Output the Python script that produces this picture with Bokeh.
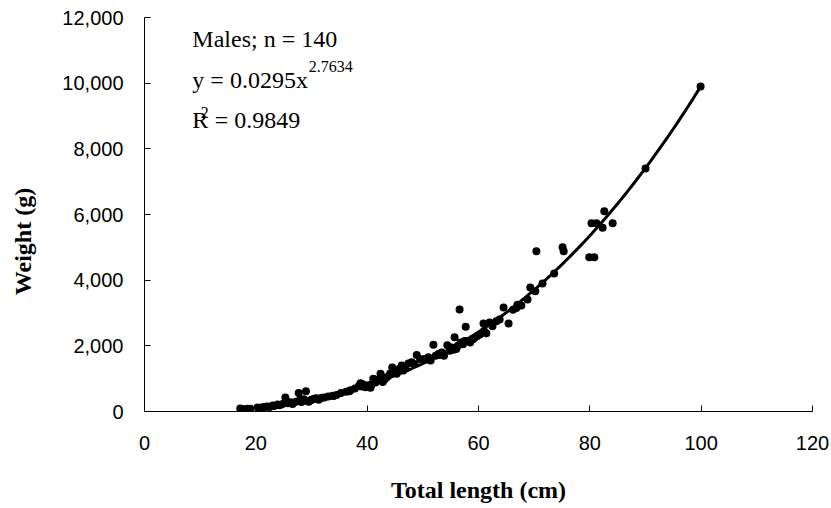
import numpy as np
from bokeh.plotting import figure
from bokeh.models import Range1d, NumeralTickFormatter, FixedTicker, Label
from bokeh.embed import file_html
from bokeh.resources import INLINE

# ---- data ----
length_cm = [17.2, 17.8, 18.2, 18.5, 19.0, 20.3, 20.6, 21.2, 21.6, 22.0, 22.5, 23.0, 23.3,
             23.9, 24.3, 24.8, 25.3, 25.5, 25.8, 26.0, 26.2, 26.6, 27.2, 27.7, 27.9, 28.0,
             28.2, 28.6, 29.0, 29.1, 29.5, 29.8, 30.0, 30.3, 30.8, 31.0, 31.3, 31.8, 32.3,
             33.0, 33.8, 34.0, 34.5, 35.3, 36.2, 36.8, 37.0, 37.8, 38.5, 38.8, 39.0, 39.2,
             39.7, 40.2, 40.6, 40.8, 41.1, 41.5, 41.9, 42.4, 42.8, 43.0, 43.2, 43.6, 44.1,
             44.5, 44.9, 45.3, 45.8, 46.2, 46.5, 46.8, 47.4, 48.0, 48.5, 48.9, 49.5, 50.3,
             50.8, 51.0, 51.4, 51.9, 52.3, 52.8, 53.0, 53.4, 53.8, 54.4, 54.8, 55.2, 55.5,
             55.7, 56.0, 56.3, 56.6, 56.8, 57.2, 57.5, 57.7, 58.0, 58.5, 58.8, 59.0, 59.3,
             59.8, 60.3, 60.9, 61.0, 61.4, 62.0, 62.5, 63.2, 63.8, 64.5, 65.4, 66.2, 66.8,
             67.0, 67.7, 68.8, 69.3, 70.2, 70.4, 71.5, 73.6, 75.1, 75.3, 79.9, 80.3, 80.8,
             81.2, 82.3, 82.6, 84.1, 90.0, 99.9]
weight_g = [90, 70, 60, 80, 80, 120, 110, 130, 140, 150, 140, 180, 170,
            210, 190, 230, 430, 300, 250, 260, 280, 230, 300, 560, 340, 310,
            290, 370, 620, 330, 300, 340, 350, 380, 400, 390, 360, 420, 430,
            460, 480, 470, 500, 560, 600, 620, 650, 700, 780, 860, 760, 830,
            740, 800, 720, 820, 1000, 880, 960, 1150, 900, 960, 1000, 1050, 1150,
            1340, 1200, 1150, 1300, 1400, 1250, 1320, 1460, 1500, 1450, 1720, 1600, 1600,
            1580, 1650, 1550, 2030, 1700, 1750, 1720, 1800, 1700, 2020, 1850, 1950, 1880,
            2260, 1900, 2000, 3110, 2100, 2050, 2150, 2580, 2150, 2100, 2200, 2200, 2250,
            2300, 2350, 2680, 2450, 2380, 2710, 2600, 2750, 2800, 3170, 2680, 3100, 3150,
            3250, 3230, 3410, 3780, 3660, 4880, 3900, 4200, 5000, 4880, 4700, 5730, 4700,
            5730, 5600, 6100, 5730, 7400, 9900]

# power-law fit as reported on the chart
fit_a = 0.0295
fit_b = 2.7634

x_ticks = [0, 20, 40, 60, 80, 100, 120]
y_ticks = [0, 2000, 4000, 6000, 8000, 10000, 12000]

x_title = "Total length (cm)"
y_title = "Weight (g)"

# ---- figure ----
p = figure(width=831, height=508, output_backend="svg", toolbar_location=None,
           x_range=Range1d(0, 120), y_range=Range1d(0, 12000))
p.min_border_left = 144
p.min_border_right = 19
p.min_border_top = 17
p.min_border_bottom = 97
p.outline_line_color = None
p.grid.visible = False
p.background_fill_color = "white"
p.border_fill_color = "white"

for ax in (p.xaxis[0], p.yaxis[0]):
    ax.axis_line_color = "black"
    ax.axis_line_width = 1
    ax.major_tick_in = 6
    ax.major_tick_out = 0
    ax.major_tick_line_color = "black"
    ax.minor_tick_line_color = None
    ax.major_label_text_font = "Liberation Sans"
    ax.major_label_text_font_size = "20px"
    ax.major_label_text_color = "black"
    ax.axis_label_text_font = "Liberation Serif"
    ax.axis_label_text_font_style = "bold"
    ax.axis_label_text_font_size = "24px"
    ax.axis_label_text_color = "black"

p.xaxis.ticker = FixedTicker(ticks=x_ticks)
p.yaxis.ticker = FixedTicker(ticks=y_ticks)
p.yaxis.formatter = NumeralTickFormatter(format="0,0")
p.xaxis.major_label_standoff = 24
p.yaxis.major_label_standoff = 21
p.xaxis.axis_label = x_title
# trailing no-break spaces push the vertical title a little below the frame centre
p.yaxis.axis_label = y_title + "\u00a0" * 9
p.xaxis.axis_label_standoff = 24
p.yaxis.axis_label_standoff = 23

# trend line
x_fit = np.linspace(min(length_cm), max(length_cm), 200)
y_fit = fit_a * x_fit ** fit_b
p.line(x_fit, y_fit, line_color="black", line_width=3)

# points
p.scatter(length_cm, weight_g, size=8, fill_color="black", line_color=None)

# annotation
font = "Liberation Serif"
def lab(x, y, text, size, yo=0):
    p.add_layout(Label(x=x, y=y, text=text, text_font=font, text_font_size=size,
                       text_color="black", text_baseline="alphabetic", y_offset=yo))

dy = 8  # baseline correction
lab(8.6, 11088, "Males; n = 140", "24px", yo=dy)
lab(8.6, 9839, "y = 0.0295x", "24px", yo=dy)
lab(29.5, 10265, "2.7634", "16px", yo=dy)
lab(8.6, 8620, "R", "24px", yo=dy)
lab(10.1, 8864, "2", "16px", yo=dy)
lab(12.6, 8620, "= 0.9849", "24px", yo=dy)

open("out.html", "w").write(file_html(p, INLINE))
